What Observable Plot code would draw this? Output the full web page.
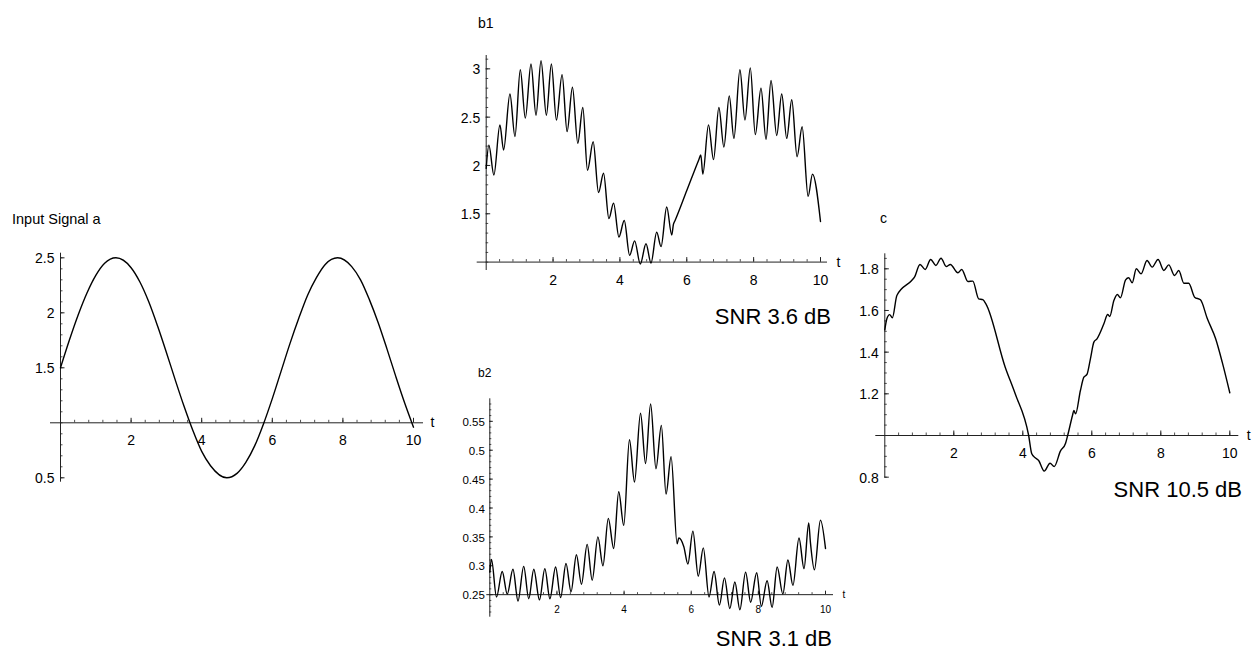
<!DOCTYPE html>
<html>
<head>
<meta charset="utf-8">
<script src="https://cdn.jsdelivr.net/npm/d3@7"></script>
<script src="https://cdn.jsdelivr.net/npm/@observablehq/plot@0.6"></script>
<style>
html, body { margin: 0; padding: 0; background: #fff; }
#page { position: relative; width: 1259px; height: 651px; overflow: hidden; font-family: "Liberation Sans", Arial, Helvetica, sans-serif; }
.layer { position: absolute; left: 0; top: 0; pointer-events: none; }
.layer svg { background: transparent !important; max-width: none !important; }
.lbl { position: absolute; white-space: nowrap; color: #000; line-height: 1; }
</style>
</head>
<body>
<div id="page"></div>
<script>
// ---------------- data ----------------
// Panel a: Input Signal a
const aT = [0, 0.25, 0.5, 0.75, 1, 1.25, 1.57, 2, 2.25, 2.5, 2.75, 3, 3.25, 3.5, 3.75, 4, 4.25, 4.71, 5, 5.25, 5.5, 5.75, 6, 6.25, 6.5, 6.75, 7, 7.25, 7.5, 7.85, 8.25, 8.5, 8.75, 9, 9.25, 9.5, 9.75, 10];
const aV = [1.50, 1.75, 1.98, 2.18, 2.34, 2.45, 2.50, 2.41, 2.28, 2.10, 1.88, 1.64, 1.39, 1.15, 0.93, 0.74, 0.61, 0.50, 0.54, 0.64, 0.79, 0.99, 1.22, 1.47, 1.72, 1.95, 2.16, 2.32, 2.44, 2.50, 2.42, 2.30, 2.12, 1.91, 1.67, 1.42, 1.18, 0.96];

// Panel b1
const b1T = [0, 0.08, 0.23, 0.41, 0.52, 0.71, 0.86, 1.02, 1.17, 1.34, 1.49, 1.64, 1.80, 1.95, 2.10, 2.27, 2.42, 2.58, 2.74, 2.89, 3.03, 3.20, 3.36, 3.51, 3.67, 3.81, 3.97, 4.13, 4.29, 4.44, 4.61, 4.78, 4.93, 5.10, 5.23, 5.40, 5.55, 5.60, 5.65, 6.00, 6.36, 6.42, 6.48, 6.65, 6.80, 6.96, 7.11, 7.27, 7.41, 7.59, 7.74, 7.90, 8.05, 8.22, 8.37, 8.52, 8.69, 8.84, 8.99, 9.14, 9.30, 9.45, 9.63, 9.76, 10];
const b1V = [1.97, 2.21, 1.90, 2.42, 2.16, 2.74, 2.30, 2.99, 2.49, 3.05, 2.52, 3.085, 2.52, 3.05, 2.47, 2.94, 2.35, 2.81, 2.23, 2.60, 1.95, 2.245, 1.72, 1.92, 1.45, 1.61, 1.26, 1.43, 1.07, 1.22, 0.98, 1.19, 0.99, 1.31, 1.16, 1.57, 1.28, 1.39, 1.43, 1.74, 2.06, 2.11, 1.91, 2.42, 2.06, 2.60, 2.19, 2.72, 2.28, 2.99, 2.47, 3.01, 2.32, 2.80, 2.27, 2.88, 2.31, 2.74, 2.28, 2.68, 2.09, 2.40, 1.68, 1.91, 1.42];

// Panel b2
const b2T = [0, 0.05, 0.20, 0.37, 0.52, 0.69, 0.84, 1.01, 1.16, 1.31, 1.48, 1.64, 1.79, 1.96, 2.11, 2.27, 2.42, 2.58, 2.73, 2.90, 3.05, 3.22, 3.37, 3.53, 3.69, 3.84, 3.99, 4.16, 4.31, 4.49, 4.64, 4.79, 4.95, 5.11, 5.25, 5.40, 5.58, 5.63, 5.78, 5.90, 6.05, 6.21, 6.36, 6.53, 6.68, 6.84, 6.99, 7.15, 7.30, 7.45, 7.62, 7.77, 7.95, 8.09, 8.26, 8.41, 8.56, 8.73, 8.88, 9.03, 9.21, 9.36, 9.50, 9.55, 9.67, 9.85, 10];
const b2V = [0.289, 0.311, 0.246, 0.290, 0.251, 0.294, 0.239, 0.299, 0.243, 0.294, 0.241, 0.295, 0.243, 0.298, 0.245, 0.304, 0.255, 0.319, 0.268, 0.337, 0.275, 0.350, 0.300, 0.382, 0.330, 0.428, 0.370, 0.518, 0.445, 0.564, 0.477, 0.580, 0.468, 0.543, 0.424, 0.489, 0.338, 0.348, 0.333, 0.303, 0.360, 0.282, 0.331, 0.246, 0.290, 0.232, 0.279, 0.226, 0.272, 0.224, 0.289, 0.237, 0.288, 0.230, 0.274, 0.228, 0.298, 0.251, 0.310, 0.266, 0.348, 0.295, 0.374, 0.341, 0.293, 0.379, 0.330];

// Panel c
const cT = [0, 0.06, 0.14, 0.22, 0.35, 0.78, 0.86, 1.02, 1.17, 1.33, 1.48, 1.63, 1.78, 1.90, 2.12, 2.23, 2.41, 2.55, 2.72, 2.84, 2.93, 3.49, 3.78, 4.17, 4.26, 4.36, 4.46, 4.62, 4.79, 4.91, 5.09, 5.24, 5.30, 5.44, 5.48, 5.53, 5.67, 5.77, 5.86, 5.96, 6.06, 6.15, 6.35, 6.46, 6.52, 6.64, 6.74, 6.83, 6.98, 7.07, 7.17, 7.29, 7.43, 7.60, 7.75, 7.92, 8.09, 8.23, 8.40, 8.52, 8.67, 8.81, 8.98, 9.15, 9.35, 9.59, 9.78, 10];
const cV = [1.507, 1.56, 1.58, 1.565, 1.672, 1.744, 1.76, 1.821, 1.797, 1.845, 1.816, 1.851, 1.811, 1.821, 1.781, 1.797, 1.739, 1.741, 1.656, 1.652, 1.632, 1.328, 1.20, 1.00, 0.912, 0.893, 0.88, 0.829, 0.867, 0.851, 0.925, 0.963, 1.0, 1.096, 1.12, 1.104, 1.216, 1.28, 1.293, 1.368, 1.448, 1.464, 1.536, 1.581, 1.571, 1.648, 1.677, 1.661, 1.747, 1.757, 1.733, 1.80, 1.776, 1.84, 1.808, 1.845, 1.792, 1.819, 1.768, 1.792, 1.731, 1.731, 1.664, 1.651, 1.56, 1.464, 1.352, 1.205];

// ticks
const tTicks = [2, 4, 6, 8, 10];
const tLabels = ["2", "4", "6", "8", "10"];
const aYTicks = [0.5, 1.5, 2, 2.5];
const aYLabels = ["0.5", "1.5", "2", "2.5"];
const b1YTicks = [1.5, 2, 2.5, 3];
const b1YLabels = ["1.5", "2", "2.5", "3"];
const b2YTicks = [0.25, 0.3, 0.35, 0.4, 0.45, 0.5, 0.55];
const b2YLabels = ["0.25", "0.3", "0.35", "0.4", "0.45", "0.5", "0.55"];
const cYTicks = [0.8, 1.2, 1.4, 1.6, 1.8];
const cYLabels = ["0.8", "1.2", "1.4", "1.6", "1.8"];
const tMinor = d3.range(1, 26).map(k => +(k * 0.4).toFixed(2));
const aYMinor = d3.range(5, 26).map(k => k / 10);
const b1YMinor = d3.range(10, 32).map(k => k / 10);
const b2YMinor = d3.range(22, 59).map(k => k / 100);
const cYMinor = d3.range(16, 38).map(k => k / 20);

// ---------------- drawing ----------------
const W = 1259, H = 651;
const FONT = '"Liberation Sans", Arial, Helvetica, sans-serif';
const AXIS = "#222";
const page = document.getElementById("page");

function panel(cfg) {
  const data = cfg.t.map((t, i) => ({t, v: cfg.v[i]}));
  const svg = Plot.plot({
    width: W,
    height: H,
    marginLeft: cfg.x0,
    marginRight: W - cfg.x10,
    marginTop: cfg.top,
    marginBottom: H - cfg.bottom,
    x: {domain: [0, 10], axis: null},
    y: {domain: cfg.yDomain, axis: null},
    style: {background: "transparent", fontFamily: FONT, overflow: "visible"},
    marks: [
      Plot.ruleY([cfg.axisVal], {x1: 0, x2: 10, insetLeft: -cfg.ext[0], insetRight: -cfg.ext[1], stroke: AXIS, strokeWidth: 1}),
      Plot.ruleX([0], {stroke: AXIS, strokeWidth: 1}),
      Plot.ruleX(tMinor, {x: d => d, y1: cfg.axisVal, y2: cfg.axisVal, insetTop: 0, insetBottom: cfg.tick[1], stroke: AXIS, strokeWidth: 0.8}),
      Plot.ruleX(tTicks, {x: d => d, y1: cfg.axisVal, y2: cfg.axisVal, insetTop: 0, insetBottom: cfg.tick[0], stroke: AXIS, strokeWidth: 1}),
      Plot.ruleY(cfg.yMinor, {y: d => d, x1: 0, x2: 0, insetLeft: 0, insetRight: -cfg.tick[1], stroke: AXIS, strokeWidth: 0.8}),
      Plot.ruleY(cfg.yTicks, {y: d => d, x1: 0, x2: 0, insetLeft: 0, insetRight: -cfg.tick[0], stroke: AXIS, strokeWidth: 1}),
      Plot.line(data, {x: "t", y: "v", curve: "monotone-x", stroke: "#000", strokeWidth: 1.4}),
      Plot.text(tTicks, {x: d => d, y: cfg.axisVal, text: (d, i) => tLabels[i], dy: cfg.xdy, fontSize: cfg.xfs, fill: "#000", fontFamily: FONT}),
      Plot.text(cfg.yTicks, {x: 0, y: d => d, text: (d, i) => cfg.yLabels[i], textAnchor: "end", dx: cfg.ydx, dy: 1, fontSize: cfg.yfs, fill: "#000", fontFamily: FONT}),
      Plot.text(["t"], {x: 10, y: cfg.axisVal, text: d => d, textAnchor: "start", dx: cfg.tdx, fontSize: cfg.tfs, fill: "#000", fontFamily: FONT})
    ]
  });
  const div = document.createElement("div");
  div.className = "layer";
  div.appendChild(svg);
  page.appendChild(div);
}

panel({t: aT, v: aV, x0: 60, x10: 413, top: 252.7, bottom: 481.7, yDomain: [0.46, 2.542], axisVal: 1,
  ext: [10, 10], tick: [4.5, 2.5], yTicks: aYTicks, yLabels: aYLabels, yMinor: aYMinor,
  xdy: 18, xfs: 14, ydx: -6, yfs: 14, tdx: 17, tfs: 14});
panel({t: b1T, v: b1V, x0: 485.7, x10: 820, top: 55, bottom: 270, yDomain: [0.913, 3.138], axisVal: 1,
  ext: [9, 7], tick: [4.5, 2.5], yTicks: b1YTicks, yLabels: b1YLabels, yMinor: b1YMinor,
  xdy: 18, xfs: 14, ydx: -6, yfs: 14, tdx: 16, tfs: 14});
panel({t: b2T, v: b2V, x0: 489.3, x10: 825, top: 398.3, bottom: 616.7, yDomain: [0.211, 0.589], axisVal: 0.25,
  ext: [3, 8], tick: [3.5, 2], yTicks: b2YTicks, yLabels: b2YLabels, yMinor: b2YMinor,
  xdy: 15, xfs: 10, ydx: -5, yfs: 11.5, tdx: 17, tfs: 10});
panel({t: cT, v: cV, x0: 884.3, x10: 1229.3, top: 253.3, bottom: 477.3, yDomain: [0.797, 1.872], axisVal: 1,
  ext: [9, 9], tick: [4.5, 2.5], yTicks: cYTicks, yLabels: cYLabels, yMinor: cYMinor,
  xdy: 18, xfs: 14, ydx: -6, yfs: 14, tdx: 17, tfs: 14});

// ---------------- titles and captions ----------------
function label(text, fs, baseline, opts) {
  const d = document.createElement("div");
  d.className = "lbl";
  d.textContent = text;
  d.style.fontSize = fs + "px";
  d.style.top = (baseline - 0.85 * fs) + "px";
  if (opts.left != null) d.style.left = opts.left + "px";
  if (opts.right != null) { d.style.right = (W - opts.right) + "px"; d.style.textAlign = "right"; }
  page.appendChild(d);
}
label("Input Signal a", 14.5, 224, {left: 12});
label("b1", 14, 28, {left: 478});
label("b2", 12, 377, {left: 478});
label("c", 14, 223, {left: 880});
label("SNR 3.6 dB", 22, 325, {right: 831});
label("SNR 3.1 dB", 22, 647, {right: 832});
label("SNR 10.5 dB", 22, 498, {right: 1242});
</script>
</body>
</html>
